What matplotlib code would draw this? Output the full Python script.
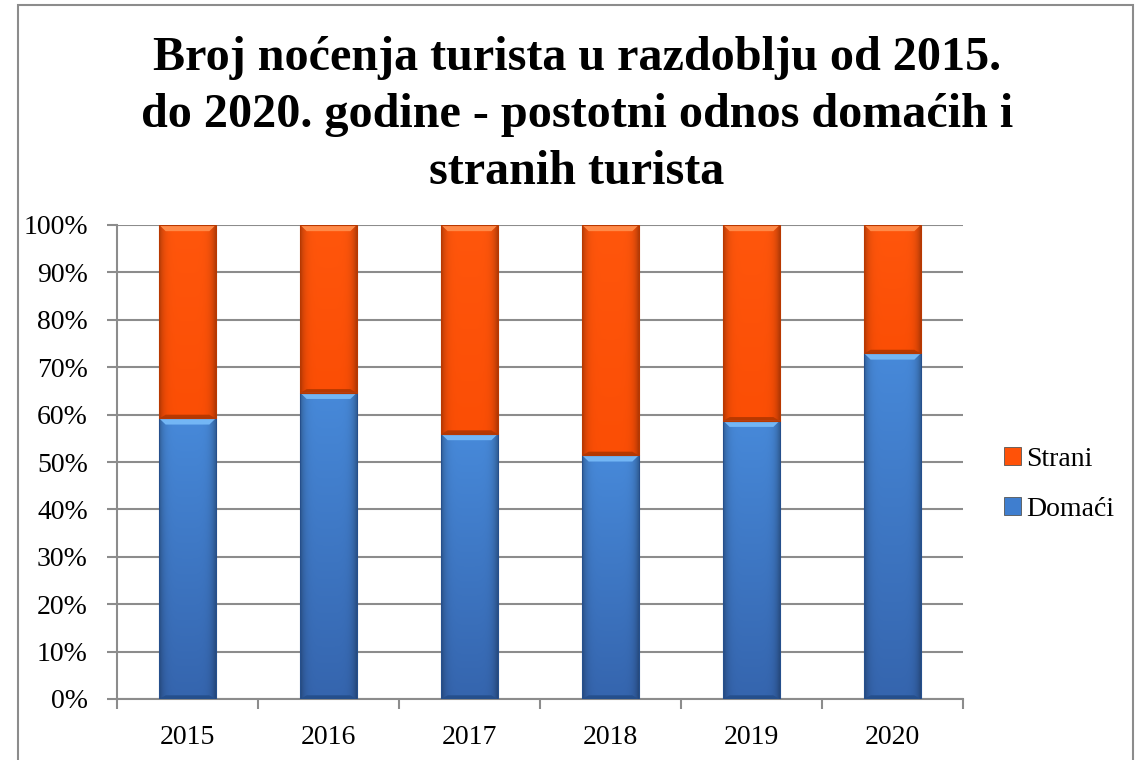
import matplotlib
matplotlib.use("Agg")
import matplotlib.pyplot as plt
from matplotlib.patches import Rectangle, Polygon
from matplotlib.colors import to_rgb
import numpy as np

years = ["2015", "2016", "2017", "2018", "2019", "2020"]
domaci = [59.2, 64.6, 55.9, 51.4, 58.7, 72.9]
strani = [100 - d for d in domaci]
title = "Broj noćenja turista u razdoblju od 2015.\ndo 2020. godine - postotni odnos domaćih i\nstranih turista"

plt.rcParams['font.family'] = ['Liberation Serif', 'DejaVu Serif']

fig = plt.figure(figsize=(11.36, 7.6), dpi=100)
ax = fig.add_axes([117/1136, 1 - 699/760, (963-117)/1136, (699-225)/760])

x = np.arange(len(years))
w = 0.40
bars_d = ax.bar(x, domaci, width=w, color="#3F7ECF", edgecolor="none", zorder=3, label="Domaći")
bars_s = ax.bar(x, strani, width=w, bottom=domaci, color="#FF5208", edgecolor="none", zorder=3, label="Strani")


def shade(patch, c_top, c_bot, light, dark):
    x0, y0 = patch.get_x(), patch.get_y()
    bw, bh = patch.get_width(), patch.get_height()
    ny, nx = 80, 40
    t = np.linspace(0, 1, ny)[:, None, None]
    u = np.linspace(0, 1, nx)[None, :, None]
    ct, cb = np.array(to_rgb(c_top)), np.array(to_rgb(c_bot))
    img = cb + (ct - cb) * t
    fac = 1 - 0.28 * np.abs(2 * u - 1) ** 6
    img = np.clip(img * fac, 0, 1)
    im = ax.imshow(img, extent=[x0, x0 + bw, y0, y0 + bh], origin="lower", aspect="auto",
                   zorder=3.1, interpolation="bilinear")
    im.set_clip_path(patch)
    dx, dy = 0.045, 1.3
    top = y0 + bh
    ax.add_patch(Polygon([(x0, top), (x0 + bw, top), (x0 + bw - dx, top - dy), (x0 + dx, top - dy)],
                         closed=True, facecolor=light, edgecolor="none", zorder=3.2))
    ax.add_patch(Polygon([(x0, y0), (x0 + bw, y0), (x0 + bw - dx, y0 + dy * 0.6), (x0 + dx, y0 + dy * 0.6)],
                         closed=True, facecolor=dark, edgecolor="none", zorder=3.2))
    ax.add_patch(Rectangle((x0, y0), bw, bh, facecolor="none", edgecolor=dark, linewidth=0.8, zorder=3.3))


for p in bars_d:
    shade(p, "#4789D9", "#3565AE", "#73B6F5", "#254F8C")
for p in bars_s:
    shade(p, "#FF560C", "#FB4E05", "#FF8A48", "#B83800")

ax.set_xlim(-0.5, len(years) - 0.5)
ax.set_ylim(0, 100)
ax.set_yticks(np.arange(0, 101, 10))
ax.set_yticklabels([f"{v}%" for v in range(0, 101, 10)], fontsize=20)
ax.set_xticks(x)
ax.set_xticklabels(years, fontsize=20)
ax.set_xticks(np.arange(-0.5, len(years), 1), minor=True)
ax.tick_params(axis='x', which='major', length=0, pad=19)
ax.tick_params(axis='x', which='minor', length=7, width=1.5, color="#8C8C8C", direction='out')
ax.tick_params(axis='y', length=7, width=1.5, color="#8C8C8C", direction='out', pad=14)
ax.yaxis.grid(True, color="#8C8C8C", linewidth=1.5, zorder=0)
ax.set_axisbelow(True)
for s in ["top", "right"]:
    ax.spines[s].set_visible(False)
for s in ["left", "bottom"]:
    ax.spines[s].set_color("#8C8C8C")
    ax.spines[s].set_linewidth(1.5)

handles, labels = ax.get_legend_handles_labels()
leg = fig.legend(handles[::-1], labels[::-1], loc="center left", bbox_to_anchor=(1004/1136, 1 - 484/760),
                 frameon=False, fontsize=20, handlelength=0.6, handleheight=0.6, handletextpad=0.2,
                 labelspacing=0.9, borderaxespad=0, borderpad=0)
for h in leg.legend_handles:
    h.set_edgecolor("#555555")
    h.set_linewidth(0.6)

fig.text(577/1136, 1 - 115/760, title, ha="center", va="center", fontsize=34.7, fontweight="bold",
         linespacing=1.37)

fig.patches.append(Rectangle((18/1136, -0.01), (1133-18)/1136, 1.01 - 5/760, transform=fig.transFigure,
                             fill=False, edgecolor="#8C8C8C", linewidth=1.5))

fig.savefig("out.png", dpi=100)
